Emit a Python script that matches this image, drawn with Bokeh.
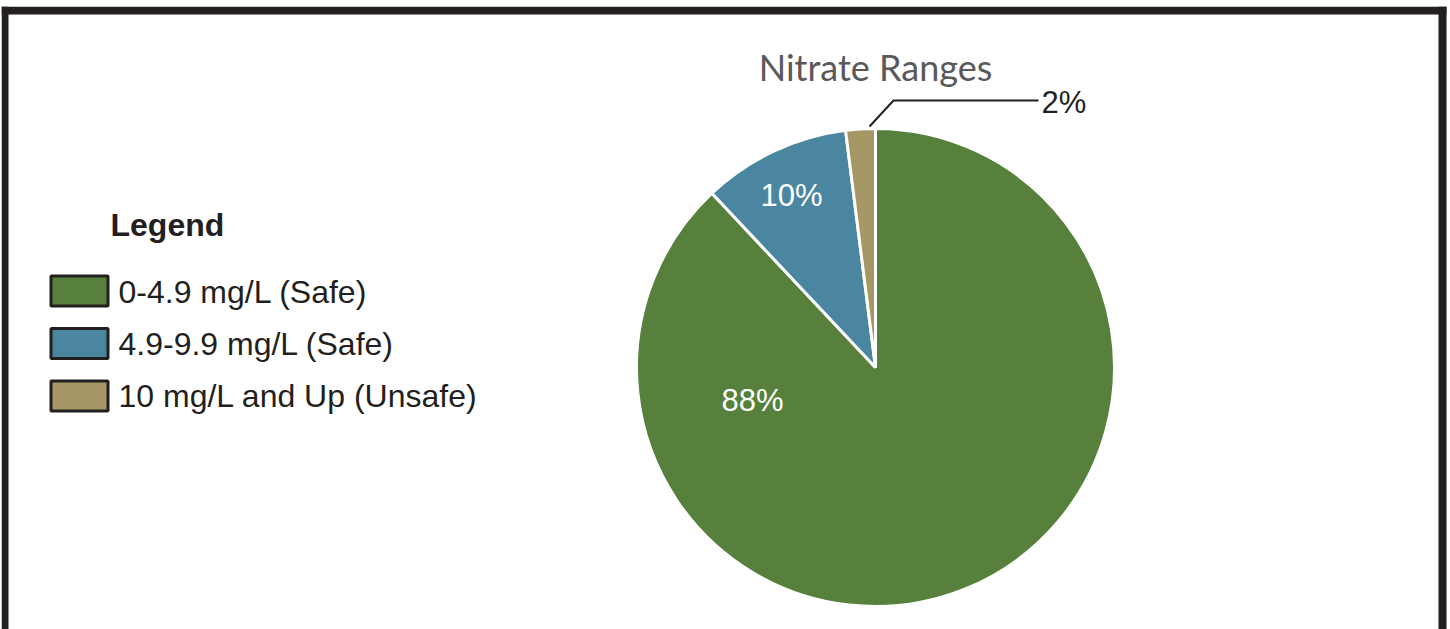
import math
from bokeh.plotting import figure
from bokeh.models import Range1d, ColumnDataSource
from bokeh.core.properties import value
from bokeh.embed import file_html
from bokeh.resources import INLINE

# ---- data ----
categories = ["0-4.9 mg/L (Safe)", "4.9-9.9 mg/L (Safe)", "10 mg/L and Up (Unsafe)"]
percent = [88, 10, 2]
colors = ["#56803b", "#4a86a0", "#a69866"]
title_text = "Nitrate Ranges"
legend_title = "Legend"

# ---- layout (page pixel coordinates) ----
W, H = 1446, 623
OX, OY = 1, 6          # page position of figure's top-left


def px(x):
    return x - OX


def py(y):
    return (OY + H) - y


DARK = "#231f20"

p = figure(width=W, height=H, output_backend="svg", toolbar_location=None,
           x_range=Range1d(0, W), y_range=Range1d(0, H), min_border=0)
p.margin = (6, 0, 0, 1)
p.axis.visible = False
p.grid.visible = False
p.outline_line_color = None
p.background_fill_color = "white"
p.border_fill_color = "white"

# frame border
p.quad(left=[px(1), px(1), px(1438)], right=[px(8), px(1446), px(1446)],
       bottom=[py(640), py(14), py(640)], top=[py(6), py(6), py(6)],
       fill_color=DARK, line_color=None)

# pie
total = sum(percent)
starts, ends = [], []
cum = 0.0
for v in percent:
    a0 = cum / total
    cum += v
    a1 = cum / total
    starts.append(math.pi / 2 - a1 * 2 * math.pi)
    ends.append(math.pi / 2 - a0 * 2 * math.pi)

src = ColumnDataSource(dict(start=starts, end=ends, color=colors, cat=categories))
CX, CY, R = 875, 367, 239
p.wedge(x=px(CX), y=py(CY), radius=R, start_angle="start", end_angle="end",
        fill_color="color", line_color="white", line_width=3, source=src)

# slice labels
lab = [f"{v}%" for v in percent]
p.text(x=[px(752), px(791)], y=[py(400), py(195)], text=[lab[0], lab[1]],
       text_color="white", text_font=value("Liberation Sans"), text_font_size="31px",
       text_align="center", text_baseline="alphabetic")

# leader line + outside label for small slice
p.line(x=[px(869), px(893), px(1038)], y=[py(126), py(100), py(100)],
       line_color=DARK, line_width=2)
p.text(x=[px(1041)], y=[py(102)], text=[lab[2]], text_color=DARK,
       text_font=value("Liberation Sans"), text_font_size="31px",
       text_align="left", text_baseline="alphabetic")

# title
p.text(x=[px(875)], y=[py(66)], text=[title_text], text_color="#595959",
       text_font=value("Lato"), text_font_size="36px",
       text_align="center", text_baseline="alphabetic")

# legend
p.text(x=[px(110)], y=[py(224)], text=[legend_title], text_color=DARK,
       text_font=value("Liberation Sans"), text_font_style="bold",
       text_font_size="32px", text_align="left", text_baseline="alphabetic")

box_y = [290.5, 343, 395.5]
p.rect(x=[px(79)] * 3, y=[py(v) for v in box_y], width=57, height=30,
       fill_color=colors, line_color=DARK, line_width=3)
p.text(x=[px(118)] * 3, y=[py(291), py(343), py(395)], text=categories,
       text_color=DARK, text_font=value("Liberation Sans"), text_font_size="32px",
       text_align="left", text_baseline="alphabetic")

open("out.html", "w").write(file_html(p, INLINE))
